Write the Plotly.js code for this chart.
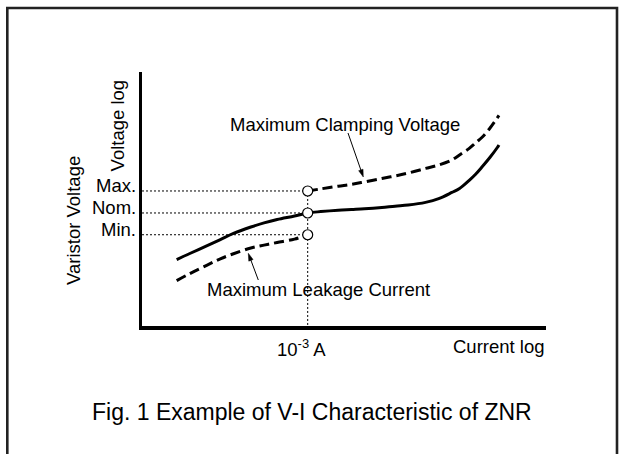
<!DOCTYPE html>
<html><head><meta charset="utf-8">
<script src="https://cdn.plot.ly/plotly-3.0.1.min.js"></script>
<style>html,body{margin:0;padding:0;background:#fff;} #chart{width:620px;height:454px;}</style>
</head><body><div id="chart"></div>
<script>
// ---- data (current in A, voltage in V, both on log axes) ----
const nomCurrent = [1e-6,2e-6,5e-6,1e-5,2e-5,5e-5,1e-4,2e-4,5e-4,1e-3,2e-3,5e-3,1e-2,2e-2,5e-2,0.1,0.2,0.5,1,2,3,5,7,10,15,22,24];
const nomVoltage = [81.7,83.9,86.8,89.1,91.5,94.1,95.8,97.2,98.7,100,100.6,101.2,101.5,101.8,102.4,103.0,103.5,104.7,106.4,109.3,111.2,115.2,118.3,122.3,127.3,132.8,134.3];
const clampCurrent = [1e-3,2e-3,5e-3,1e-2,2e-2,5e-2,0.1,0.2,0.5,1,2,3,5,7,10,15,22,24];
const clampVoltage = [110,111.0,112.3,113.2,114.4,116.1,117.4,118.9,121.3,123.1,125.8,128.6,132.3,135.5,139.0,144.5,151.0,152.6];
const leakCurrent = [1e-6,2e-6,5e-6,1e-5,2e-5,5e-5,1e-4,2e-4,5e-4,1e-3];
const leakVoltage = [74.6,76.9,79.8,82.0,83.8,85.9,87.0,88.0,89.3,91];
const refCurrent = 1e-3;
const refLabels = ['Max.','Nom.','Min.'];
const refVoltage = [110,100,91];

const xRange = [-6.794, 2.457];
const yRange = [1.7873, 2.2653];
const FONT = 'Liberation Sans, Arial, Helvetica, sans-serif';
const INK = '#000';
const M = {l:142, r:74, t:72, b:128};
const PW = 620 - M.l - M.r, PH = 454 - M.t - M.b;
const pX = px => (px - M.l) / PW;
const pY = py => (M.t + PH - py) / PH;

const traces = [];
const xLeft = Math.pow(10, xRange[0]);
const yBottom = Math.pow(10, yRange[0]);
refVoltage.forEach(v => traces.push({
  x:[xLeft, refCurrent], y:[v, v], mode:'lines', hoverinfo:'skip',
  line:{color:INK, width:1, dash:'2px,2px'}
}));
traces.push({x:[refCurrent, refCurrent], y:[refVoltage[0], yBottom], mode:'lines',
  line:{color:INK, width:1, dash:'2px,2px'}});
traces.push({x:nomCurrent, y:nomVoltage, mode:'lines',
  line:{color:INK, width:3, shape:'spline', smoothing:1}});
traces.push({x:clampCurrent, y:clampVoltage, mode:'lines',
  line:{color:INK, width:3, shape:'spline', smoothing:1, dash:'10px,5px'}});
traces.push({x:leakCurrent, y:leakVoltage, mode:'lines',
  line:{color:INK, width:3, shape:'spline', smoothing:1, dash:'10px,5px'}});
traces.push({x:refVoltage.map(() => refCurrent), y:refVoltage, mode:'markers', cliponaxis:false,
  marker:{symbol:'circle', size:10, color:'#fff', line:{color:INK, width:1.2}}});

const f = (s) => ({family:FONT, size:s, color:INK});
const annotations = [];
refLabels.forEach((t, i) => annotations.push({
  xref:'paper', x:0, yref:'y', y:Math.log10(refVoltage[i]), text:t,
  xanchor:'right', yanchor:'middle', xshift:-4.3, yshift:5, showarrow:false, font:f(18.5)
}));
annotations.push({xref:'paper', yref:'paper', x:pX(345), y:pY(124.5), text:'Maximum Clamping Voltage',
  showarrow:false, xanchor:'center', yanchor:'middle', font:f(18.5)});
annotations.push({xref:'paper', yref:'paper', x:pX(318), y:pY(289.7), text:'Maximum Leakage Current',
  showarrow:false, xanchor:'center', yanchor:'middle', font:f(18.5)});
annotations.push({xref:'paper', yref:'paper', x:pX(117.4), y:pY(125), text:'Voltage log', textangle:-90,
  showarrow:false, xanchor:'center', yanchor:'middle', font:f(18.5)});
annotations.push({xref:'paper', yref:'paper', x:pX(73), y:pY(221), text:'Varistor Voltage', textangle:-90,
  showarrow:false, xanchor:'center', yanchor:'middle', font:f(18.5)});
annotations.push({xref:'paper', yref:'paper', x:pX(301), y:pY(347.7), text:'10<sup>-3</sup> A',
  showarrow:false, xanchor:'center', yanchor:'middle', font:f(18.5)});
annotations.push({xref:'paper', yref:'paper', x:1.0, y:pY(346.5), text:'Current log',
  showarrow:false, xanchor:'right', yanchor:'middle', xshift:1, font:f(18.5)});
annotations.push({xref:'paper', yref:'paper', x:pX(311.5), y:pY(412.3), text:'Fig. 1 Example of V-I Characteristic of ZNR',
  showarrow:false, xanchor:'center', yanchor:'middle', font:f(23)});

// pointer arrows (tail -> tip, pixel positions of the figure) drawn as shapes
function arrowShapes(tail, tip) {
  const dx = tip[0] - tail[0], dy = tip[1] - tail[1];
  const len = Math.hypot(dx, dy), ux = dx / len, uy = dy / len;
  const L = 7.5, W = 2.3;
  const bx = tip[0] - ux * L, by = tip[1] - uy * L;
  const nx = -uy, ny = ux;
  return [
    {type:'line', xref:'paper', yref:'paper', x0:pX(tail[0]), y0:pY(tail[1]), x1:pX(bx + ux), y1:pY(by + uy),
      line:{color:INK, width:1}},
    {type:'path', xref:'paper', yref:'paper',
      path:`M ${pX(tip[0])} ${pY(tip[1])} L ${pX(bx + nx*W)} ${pY(by + ny*W)} L ${pX(bx - nx*W)} ${pY(by - ny*W)} Z`,
      fillcolor:INK, line:{color:INK, width:0.5}}
  ];
}
const shapes = [
  {type:'rect', xref:'paper', yref:'paper', x0:pX(7.3), x1:pX(617), y0:pY(600), y1:pY(8),
    line:{color:'#222', width:2.6}, fillcolor:'rgba(0,0,0,0)', layer:'below'},
  ...arrowShapes([348, 133], [363.3, 177]),
  ...arrowShapes([258.3, 280], [248.3, 253.3])
];

const layout = {
  width:620, height:454,
  margin:{l:M.l, r:M.r, t:M.t, b:M.b, pad:0},
  paper_bgcolor:'#fff', plot_bgcolor:'#fff',
  showlegend:false,
  font:{family:FONT, color:INK},
  xaxis:{type:'log', range:xRange, showgrid:false, zeroline:false, showticklabels:false, ticks:'',
    showline:true, linecolor:INK, linewidth:3.5},
  yaxis:{type:'log', range:yRange, showgrid:false, zeroline:false, showticklabels:false, ticks:'',
    showline:true, linecolor:INK, linewidth:3.5},
  annotations:annotations,
  shapes:shapes
};
Plotly.newPlot('chart', traces, layout, {displayModeBar:false, staticPlot:true});
</script></body></html>
